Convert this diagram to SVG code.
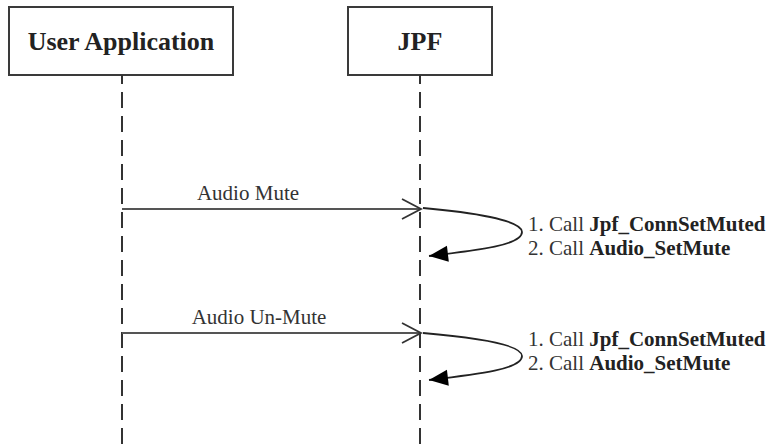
<svg xmlns="http://www.w3.org/2000/svg" width="771" height="448" viewBox="0 0 771 448">
<style>
.box{fill:#fff;stroke:#3a3a3a;stroke-width:2}
.hdr{font-family:"Liberation Serif","Times New Roman",serif;font-weight:bold;font-size:26px;fill:#222;text-anchor:middle}
.life{stroke:#333;stroke-width:2;stroke-dasharray:16 8;stroke-dashoffset:7;fill:none}
.msg{stroke:#555;stroke-width:2;fill:none}
.self{stroke:#222;stroke-width:1.8;fill:none}
.lbl{font-family:"Liberation Serif","Times New Roman",serif;font-size:21px;fill:#333}
.mid{text-anchor:middle}
.b{font-weight:bold;fill:#222}
</style>
<defs>
<marker id="open" markerWidth="22" markerHeight="24" refX="20" refY="11" orient="auto" markerUnits="userSpaceOnUse">
<path d="M1,1 L20,11 L1,21" fill="none" stroke="#333" stroke-width="1.8"/>
</marker>
<marker id="filled" markerWidth="22" markerHeight="20" refX="20" refY="9" orient="auto" markerUnits="userSpaceOnUse">
<path d="M1,1 L20,9 L1,17 Z" fill="#000"/>
</marker>
</defs>
<g id="user-app">
<rect class="box" x="9" y="7" width="224" height="68"/>
<text class="hdr" x="121" y="50">User Application</text>
</g>
<g id="jpf">
<rect class="box" x="348" y="7" width="144" height="68"/>
<text class="hdr" x="420" y="50">JPF</text>
</g>
<g id="connectors">
<line class="life" x1="122" y1="75" x2="122" y2="448"/>
<line class="life" x1="420" y1="75" x2="420" y2="448"/>
<line class="msg" x1="122" y1="209" x2="421" y2="209" marker-end="url(#open)"/>
<path class="self" d="M423,208 C470,212 522,220 522,232 C522,245 480,250 429,256" marker-end="url(#filled)"/>
<line class="msg" x1="122" y1="333" x2="421" y2="333" marker-end="url(#open)"/>
<path class="self" d="M423,333 C470,337 522,344 522,356 C522,369 480,374 429,380" marker-end="url(#filled)"/>
</g>
<g id="labels">
<text class="lbl mid" x="248" y="200">Audio Mute</text>
<text class="lbl" x="528" y="231">1. Call <tspan class="b">Jpf_ConnSetMuted</tspan></text>
<text class="lbl" x="528" y="255">2. Call <tspan class="b">Audio_SetMute</tspan></text>
<text class="lbl mid" x="259" y="324">Audio Un-Mute</text>
<text class="lbl" x="528" y="346">1. Call <tspan class="b">Jpf_ConnSetMuted</tspan></text>
<text class="lbl" x="528" y="370">2. Call <tspan class="b">Audio_SetMute</tspan></text>
</g>
</svg>
